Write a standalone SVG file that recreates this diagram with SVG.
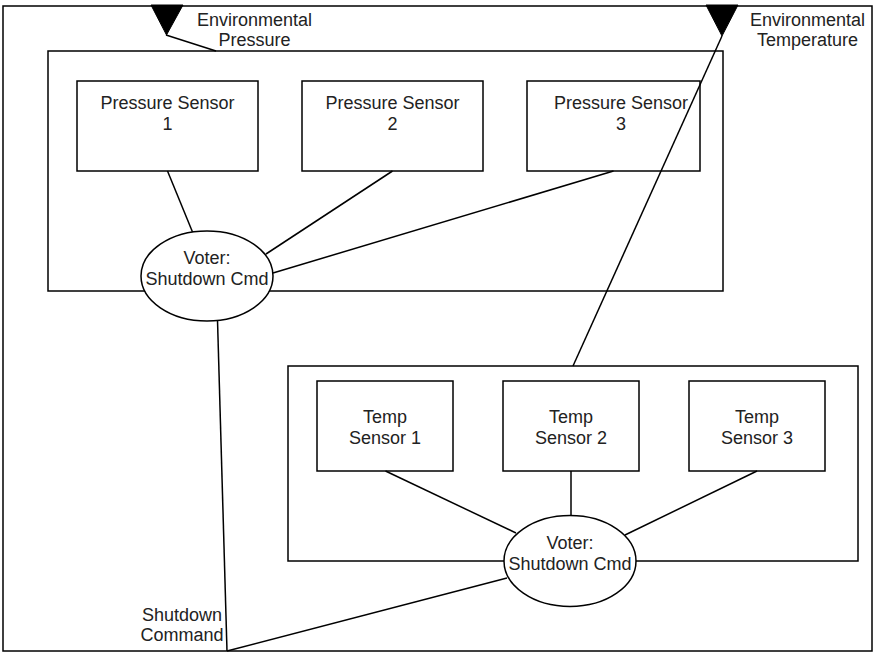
<svg xmlns="http://www.w3.org/2000/svg" width="877" height="656" viewBox="0 0 877 656">
<style>
.box{fill:#fff;stroke:#000;stroke-width:1.5}
.grp{fill:none;stroke:#000;stroke-width:1.5}
.ln{stroke:#000;stroke-width:1.5;fill:none}
.tri{fill:#000;stroke:#000;stroke-width:1}
text{font-family:"Liberation Sans",Arial,sans-serif;font-size:18px;fill:#222;text-anchor:middle}
</style>
<rect x="0" y="0" width="877" height="656" fill="#fff"/>
<g id="system"><rect class="grp" x="3" y="6" width="869" height="645"/></g>
<g id="pressure-group"><rect class="grp" x="48" y="51" width="675" height="240"/></g>
<g id="temp-group"><rect class="grp" x="288" y="366" width="570" height="195"/></g>
<g id="ps1"><rect class="box" x="77" y="81" width="181" height="90"/><text x="167.5" y="108.5">Pressure Sensor</text><text x="167.5" y="129.5">1</text></g>
<g id="ps2"><rect class="box" x="302" y="81" width="181" height="90"/><text x="392.5" y="108.5">Pressure Sensor</text><text x="392.5" y="129.5">2</text></g>
<g id="ps3"><rect class="box" x="527" y="81" width="173" height="90"/><text x="621" y="108.5">Pressure Sensor</text><text x="621" y="129.5">3</text></g>
<g id="ts1"><rect class="box" x="317" y="381" width="136" height="90"/><text x="385" y="423">Temp</text><text x="385" y="443.5">Sensor 1</text></g>
<g id="ts2"><rect class="box" x="503" y="381" width="136" height="90"/><text x="571" y="423">Temp</text><text x="571" y="443.5">Sensor 2</text></g>
<g id="ts3"><rect class="box" x="689" y="381" width="136" height="90"/><text x="757" y="423">Temp</text><text x="757" y="443.5">Sensor 3</text></g>
<g id="connectors">
<line class="ln" x1="166" y1="35" x2="216" y2="51"/>
<line class="ln" x1="722" y1="36" x2="573" y2="366"/>
<line class="ln" x1="167.5" y1="171" x2="192.5" y2="232"/>
<line class="ln" x1="392.5" y1="171" x2="266" y2="254"/>
<line class="ln" x1="613.5" y1="171" x2="273" y2="273"/>
<line class="ln" x1="217.5" y1="320" x2="227" y2="651"/>
<line class="ln" x1="507" y1="578" x2="227" y2="651"/>
<line class="ln" x1="385.5" y1="471" x2="516" y2="533"/>
<line class="ln" x1="571" y1="471" x2="571" y2="516"/>
<line class="ln" x1="757" y1="471" x2="625" y2="535"/>
</g>
<g id="env-pressure"><polygon class="tri" points="151,5 183,5 166.5,35"/><text x="254.5" y="25.5">Environmental</text><text x="254.5" y="45.5">Pressure</text></g>
<g id="env-temperature"><polygon class="tri" points="706,5 738,5 722,36"/><text x="807.5" y="25.5">Environmental</text><text x="807.5" y="45.5">Temperature</text></g>
<g id="pressure-voter"><ellipse class="box" cx="207" cy="276" rx="66" ry="45"/><text x="207" y="264">Voter:</text><text x="207" y="284.5">Shutdown Cmd</text></g>
<g id="temp-voter"><ellipse class="box" cx="570" cy="561" rx="66" ry="45.5"/><text x="570" y="549">Voter:</text><text x="570" y="569.5">Shutdown Cmd</text></g>
<g id="shutdown-command"><text x="182" y="621">Shutdown</text><text x="182" y="641">Command</text></g>
</svg>
